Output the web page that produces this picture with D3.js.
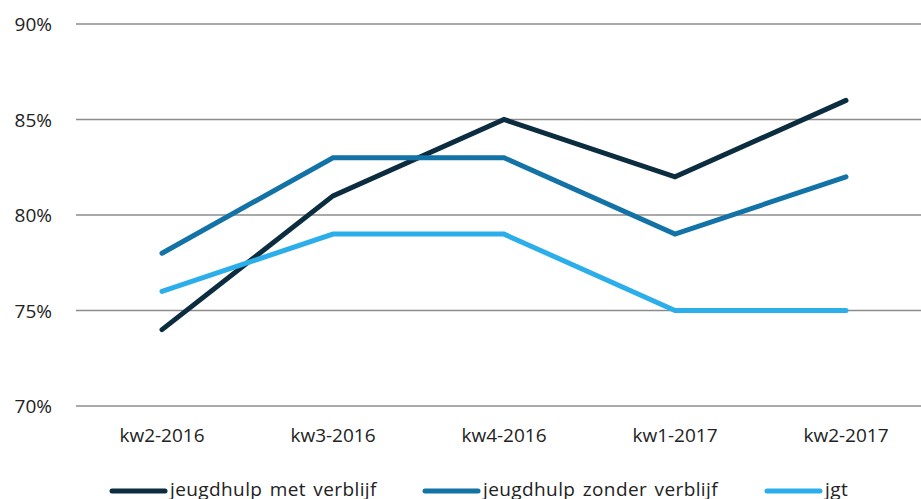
<!DOCTYPE html>
<html>
<head>
<meta charset="utf-8">
<script src="https://cdn.jsdelivr.net/npm/d3@7"></script>
<style>
  body { margin: 0; background: #fff; }
  svg { display: block; font-family: "Open Sans", Lato, sans-serif; }
</style>
</head>
<body>
<svg id="chart" width="921" height="499"></svg>
<script>
const categories = ["kw2-2016", "kw3-2016", "kw4-2016", "kw1-2017", "kw2-2017"];
const metVerblijf    = [74, 81, 85, 82, 86];
const zonderVerblijf = [78, 83, 83, 79, 82];
const jgt            = [76, 79, 79, 75, 75];
const yTicks = [70, 75, 80, 85, 90];

const series = [
    { name: "jeugdhulp met verblijf",    values: metVerblijf,    color: "#0c2d40" },
    { name: "jeugdhulp zonder verblijf", values: zonderVerblijf, color: "#1473a6" },
    { name: "jgt",                       values: jgt,            color: "#2caeea" }
];

const W = 921, H = 499;
const svg = d3.select("#chart");

// plot area: categories spaced 171px, right edge runs off the canvas
const x = d3.scalePoint().domain(categories).range([76.5, 931.5]).padding(0.5);
const y = d3.scaleLinear().domain([70, 90]).range([406, 24]);

// gridlines
svg.append("g").selectAll("line")
    .data(yTicks).join("line")
    .attr("x1", 76).attr("x2", W)
    .attr("y1", d => y(d)).attr("y2", d => y(d))
    .attr("stroke", "#8c8c8c").attr("stroke-width", 1.5);

// y labels
svg.append("g").selectAll("text")
    .data(yTicks).join("text")
    .attr("x", 52).attr("y", d => y(d) + 7)
    .attr("text-anchor", "end").attr("font-size", 19).attr("fill", "#222")
    .text(d => d + "%");

// x labels
svg.append("g").selectAll("text")
    .data(categories).join("text")
    .attr("x", d => x(d)).attr("y", 442)
    .attr("text-anchor", "middle").attr("font-size", 19).attr("fill", "#222")
    .text(d => d);

// lines
const line = d3.line()
    .x((d, i) => x(categories[i]))
    .y(d => y(d));

svg.append("g").selectAll("path")
    .data(series).join("path")
    .attr("d", d => line(d.values))
    .attr("fill", "none")
    .attr("stroke", d => d.color)
    .attr("stroke-width", 5)
    .attr("stroke-linecap", "round")
    .attr("stroke-linejoin", "miter");

// legend (bottom edge clips descenders, as in the original)
const legendX = [112, 425, 767];
const lg = svg.append("g").selectAll("g")
    .data(series).join("g")
    .attr("transform", (d, i) => `translate(${legendX[i]},491)`);

lg.append("line")
    .attr("x1", 0).attr("x2", 53)
    .attr("stroke", d => d.color).attr("stroke-width", 5)
    .attr("stroke-linecap", "round");

lg.append("text")
    .attr("x", 58).attr("y", 5)
    .attr("font-size", 19).attr("fill", "#222")
    .attr("letter-spacing", "0.4px").attr("word-spacing", "2px")
    .text(d => d.name);
</script>
</body>
</html>
